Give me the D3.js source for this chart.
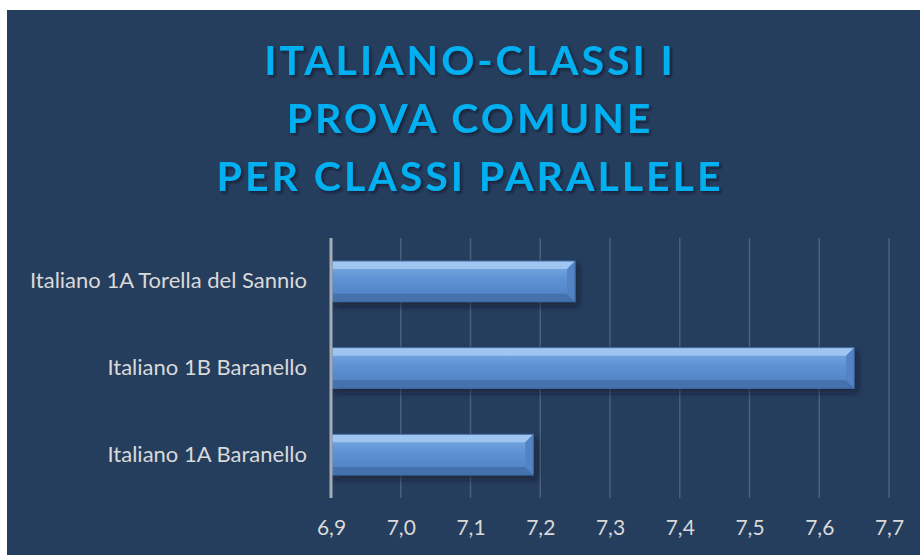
<!DOCTYPE html>
<html>
<head>
<meta charset="utf-8">
<script src="https://cdn.jsdelivr.net/npm/d3@7/dist/d3.min.js"></script>
<style>
  html, body { margin: 0; padding: 0; background: #fff; }
  svg { display: block; }
</style>
</head>
<body>
<svg id="chart" width="920" height="555"></svg>
<script>
// data
const titleLines = ["ITALIANO-CLASSI I", "PROVA COMUNE", "PER CLASSI PARALLELE"];
const categories = ["Italiano 1A Torella del Sannio", "Italiano 1B Baranello", "Italiano 1A Baranello"];
const values = [7.25, 7.65, 7.19];
const xTicks = [6.9, 7.0, 7.1, 7.2, 7.3, 7.4, 7.5, 7.6, 7.7];

const width = 920, height = 555;
const plot = { left: 331, right: 889, top: 238, bottom: 498 };
const bevel = 8;

const svg = d3.select("#chart");

const defs = svg.append("defs");
const grad = defs.append("linearGradient")
  .attr("id", "barGrad").attr("x1", 0).attr("y1", 0).attr("x2", 0).attr("y2", 1);
grad.append("stop").attr("offset", "0%").attr("stop-color", "#80b0e8");
grad.append("stop").attr("offset", "45%").attr("stop-color", "#5d91d3");
grad.append("stop").attr("offset", "100%").attr("stop-color", "#4c80c3");

const shadow = defs.append("filter").attr("id", "barShadow")
  .attr("x", "-10%").attr("y", "-30%").attr("width", "130%").attr("height", "180%");
shadow.append("feDropShadow").attr("dx", 3).attr("dy", 4).attr("stdDeviation", 3)
  .attr("flood-color", "#0c1628").attr("flood-opacity", 0.6);

const tshadow = defs.append("filter").attr("id", "titleShadow")
  .attr("x", "-5%").attr("y", "-20%").attr("width", "110%").attr("height", "150%");
tshadow.append("feDropShadow").attr("dx", 2).attr("dy", 2).attr("stdDeviation", 1.5)
  .attr("flood-color", "#0a1424").attr("flood-opacity", 0.7);

// background
svg.append("rect").attr("x", 7).attr("y", 10).attr("width", width - 7).attr("height", height - 10)
  .attr("fill", "#263e5e");

// title
svg.append("g").attr("filter", "url(#titleShadow)")
  .selectAll("text").data(titleLines).join("text")
    .attr("x", 470)
    .attr("y", (d, i) => 75 + i * 58)
    .attr("text-anchor", "middle")
    .attr("font-family", "Lato, 'Open Sans', sans-serif")
    .attr("font-weight", "bold")
    .attr("font-size", 41)
    .attr("letter-spacing", 3)
    .attr("fill", "#00b0f0")
    .text(d => d);

const x = d3.scaleLinear().domain([6.9, 7.7]).range([plot.left, plot.right]);
const y = d3.scaleBand().domain(categories).range([plot.top, plot.bottom])
  .paddingInner(0.53).paddingOuter(0.265);

// grid lines
svg.append("g")
  .selectAll("line").data(xTicks.slice(1)).join("line")
    .attr("x1", d => x(d)).attr("x2", d => x(d))
    .attr("y1", plot.top).attr("y2", plot.bottom)
    .attr("stroke", "#4a5f7c").attr("stroke-width", 1.5);

// x axis labels
const xAxis = d3.axisBottom(x).tickValues(xTicks).tickSize(0).tickPadding(22)
  .tickFormat(d => d3.format(".1f")(d).replace(".", ","));
svg.append("g")
  .attr("transform", `translate(0,${plot.bottom})`)
  .call(xAxis)
  .call(g => g.select(".domain").remove())
  .call(g => g.selectAll("text")
    .attr("font-family", "Lato, 'Open Sans', sans-serif")
    .attr("font-size", 21)
    .attr("fill", "#d9d9d9"));

// y axis labels
const yAxis = d3.axisLeft(y).tickSize(0).tickPadding(24);
svg.append("g")
  .attr("transform", `translate(${plot.left},0)`)
  .call(yAxis)
  .call(g => g.select(".domain").remove())
  .call(g => g.selectAll("text")
    .attr("font-family", "Lato, 'Open Sans', sans-serif")
    .attr("font-size", 22)
    .attr("fill", "#d9d9d9"));

// bars with bevel
const bars = svg.append("g").selectAll("g").data(categories).join("g")
  .attr("filter", "url(#barShadow)");

bars.each(function(c, i) {
  const g = d3.select(this);
  const x0 = x(6.9) + 1, x1 = x(values[i]);
  const y0 = y(c), y1 = y(c) + y.bandwidth();
  const b = bevel;
  g.append("rect").attr("x", x0).attr("y", y0).attr("width", x1 - x0).attr("height", y1 - y0)
    .attr("fill", "url(#barGrad)");
  // top bevel
  g.append("polygon")
    .attr("points", [[x0, y0], [x1, y0], [x1 - b, y0 + b], [x0, y0 + b]].join(" "))
    .attr("fill", "#a3c8f2").attr("opacity", 0.9);
  // bottom bevel
  g.append("polygon")
    .attr("points", [[x0, y1], [x1, y1], [x1 - b, y1 - b], [x0, y1 - b]].join(" "))
    .attr("fill", "#4572ad");
  // right bevel
  g.append("polygon")
    .attr("points", [[x1, y0], [x1, y1], [x1 - b, y1 - b], [x1 - b, y0 + b]].join(" "))
    .attr("fill", "#5283c4");
  g.append("rect").attr("x", x0).attr("y", y0).attr("width", x1 - x0).attr("height", y1 - y0)
    .attr("fill", "none").attr("stroke", "#3f6aa0").attr("stroke-width", 1);
});

// vertical axis line
svg.append("line")
  .attr("x1", x(6.9)).attr("x2", x(6.9))
  .attr("y1", plot.top).attr("y2", plot.bottom)
  .attr("stroke", "#a6acb6").attr("stroke-width", 3);
</script>
</body>
</html>
